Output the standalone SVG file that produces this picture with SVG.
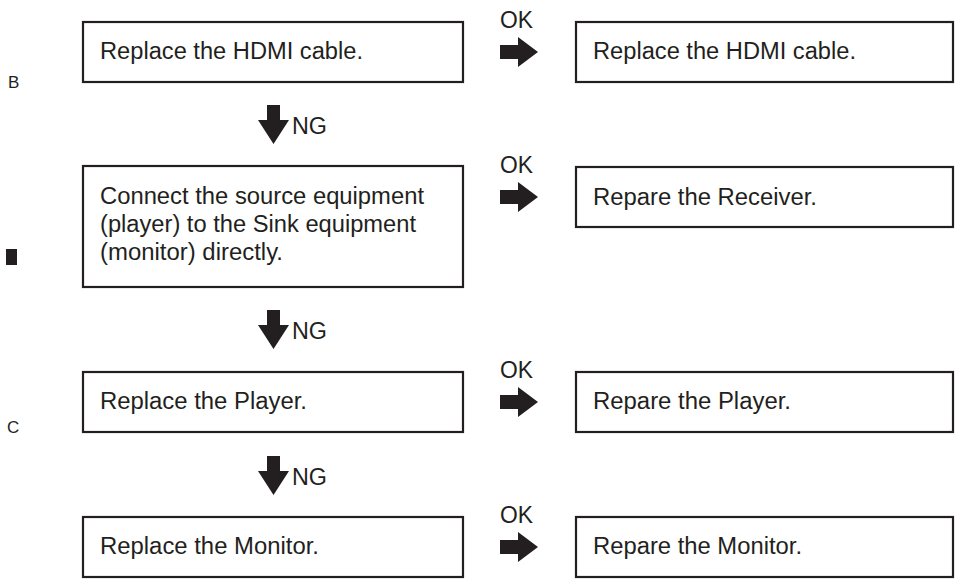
<svg xmlns="http://www.w3.org/2000/svg" width="955" height="582" viewBox="0 0 955 582">
<style>
.box{fill:#fff;stroke:#231f20;stroke-width:2.2}
.t{font-family:"Liberation Sans",Arial,sans-serif;font-size:23px;fill:#231f20}
.lbl{font-family:"Liberation Sans",Arial,sans-serif;font-size:23px;fill:#231f20}
.side{font-family:"Liberation Sans",Arial,sans-serif;font-size:17px;fill:#231f20}
.arr{fill:#231f20}
</style>
<rect width="955" height="582" fill="#fff"/>
<g id="side-labels">
<text class="side" x="8" y="88">B</text>
<rect x="6" y="249" width="11" height="16" fill="#231f20"/>
<text class="side" x="7" y="433">C</text>
</g>
<g id="n1"><rect class="box" x="83" y="22" width="380" height="60"/><text class="t" x="100" y="59" textLength="263" lengthAdjust="spacingAndGlyphs">Replace the HDMI cable.</text></g>
<g id="n1r"><rect class="box" x="576" y="22" width="377" height="60"/><text class="t" x="593" y="59" textLength="263" lengthAdjust="spacingAndGlyphs">Replace the HDMI cable.</text></g>
<g id="n2"><rect class="box" x="83" y="166" width="380" height="121"/>
<text class="t" x="100" y="204" textLength="324" lengthAdjust="spacingAndGlyphs">Connect the source equipment</text>
<text class="t" x="100" y="232" textLength="316" lengthAdjust="spacingAndGlyphs">(player) to the Sink equipment</text>
<text class="t" x="100" y="260" textLength="183" lengthAdjust="spacingAndGlyphs">(monitor) directly.</text></g>
<g id="n2r"><rect class="box" x="576" y="167" width="377" height="60"/><text class="t" x="593" y="205" textLength="224" lengthAdjust="spacingAndGlyphs">Repare the Receiver.</text></g>
<g id="n3"><rect class="box" x="83" y="372" width="380" height="60"/><text class="t" x="100" y="409" textLength="207" lengthAdjust="spacingAndGlyphs">Replace the Player.</text></g>
<g id="n3r"><rect class="box" x="576" y="372" width="377" height="60"/><text class="t" x="593" y="409" textLength="198" lengthAdjust="spacingAndGlyphs">Repare the Player.</text></g>
<g id="n4"><rect class="box" x="83" y="517" width="380" height="60"/><text class="t" x="100" y="554" textLength="219" lengthAdjust="spacingAndGlyphs">Replace the Monitor.</text></g>
<g id="n4r"><rect class="box" x="576" y="517" width="377" height="60"/><text class="t" x="593" y="554" textLength="209" lengthAdjust="spacingAndGlyphs">Repare the Monitor.</text></g>
<g id="connectors">
<polygon class="arr" points="500,45 518,45 518,37 538,52 518,67 518,59 500,59"/>
<text class="lbl" x="500" y="28" textLength="33" lengthAdjust="spacingAndGlyphs">OK</text>
<polygon class="arr" points="500,190 518,190 518,182 538,197 518,212 518,204 500,204"/>
<text class="lbl" x="500" y="173" textLength="33" lengthAdjust="spacingAndGlyphs">OK</text>
<polygon class="arr" points="500,395 518,395 518,387 538,402 518,417 518,409 500,409"/>
<text class="lbl" x="500" y="378" textLength="33" lengthAdjust="spacingAndGlyphs">OK</text>
<polygon class="arr" points="500,540 518,540 518,532 538,547 518,562 518,554 500,554"/>
<text class="lbl" x="500" y="523" textLength="33" lengthAdjust="spacingAndGlyphs">OK</text>
<polygon class="arr" points="267,105 280,105 280,120 289,120 273.5,144 258,120 267,120"/>
<text class="lbl" x="292" y="134" textLength="35" lengthAdjust="spacingAndGlyphs">NG</text>
<polygon class="arr" points="267,310 280,310 280,325 289,325 273.5,349 258,325 267,325"/>
<text class="lbl" x="292" y="339" textLength="35" lengthAdjust="spacingAndGlyphs">NG</text>
<polygon class="arr" points="267,456 280,456 280,471 289,471 273.5,495 258,471 267,471"/>
<text class="lbl" x="292" y="485" textLength="35" lengthAdjust="spacingAndGlyphs">NG</text>
</g>
</svg>
